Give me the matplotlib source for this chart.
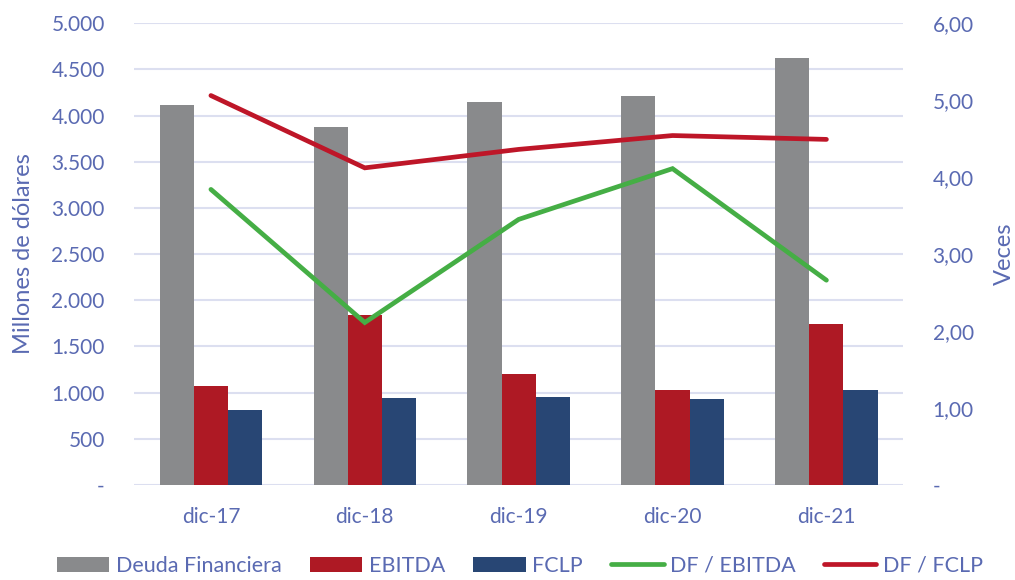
import matplotlib.pyplot as plt
import numpy as np
from matplotlib.ticker import FuncFormatter

plt.rcParams['font.family'] = ['Lato', 'DejaVu Sans']

# datos
periodos = ['dic-17', 'dic-18', 'dic-19', 'dic-20', 'dic-21']
deuda = [4113, 3874, 4145, 4210, 4621]
ebitda = [1071, 1840, 1201, 1028, 1742]
fclp = [812, 942, 952, 931, 1028]
df_ebitda = [3.84, 2.11, 3.45, 4.11, 2.66]
df_fclp = [5.06, 4.12, 4.36, 4.54, 4.49]

txt = '#5A6AB2'
grid = '#DCDFF0'

fig = plt.figure(figsize=(10.15, 5.8), dpi=100)
ax = fig.add_axes([0.132, 0.164, 0.758, 0.796])
ax2 = ax.twinx()

x = np.arange(len(periodos))
w = 0.222
ax.bar(x - w, deuda, w, color='#898A8C', label='Deuda Financiera', zorder=2)
ax.bar(x, ebitda, w, color='#AE1924', label='EBITDA', zorder=2)
ax.bar(x + w, fclp, w, color='#284674', label='FCLP', zorder=2)

ax2.plot(x, df_ebitda, color='#45AE45', lw=3.4, solid_capstyle='round',
         solid_joinstyle='miter', label='DF / EBITDA')
ax2.plot(x, df_fclp, color='#BE1628', lw=3.4, solid_capstyle='round',
         solid_joinstyle='miter', label='DF / FCLP')

ax.set_xlim(-0.5, 4.5)
ax.set_ylim(0, 5000)
ax2.set_ylim(0, 6)
ax.set_yticks(np.arange(0, 5001, 500))
ax2.set_yticks(np.arange(0, 7, 1))

def fmt_izq(v, p):
    if v == 0:
        return '-'
    return f'{int(v):,}'.replace(',', '.')

def fmt_der(v, p):
    if v == 0:
        return '-'
    return f'{v:.2f}'.replace('.', ',')

ax.yaxis.set_major_formatter(FuncFormatter(fmt_izq))
ax2.yaxis.set_major_formatter(FuncFormatter(fmt_der))

ax.set_xticks(x)
ax.set_xticklabels(periodos)
ax.grid(axis='y', color=grid, lw=1.5)
ax.set_axisbelow(True)

for a in (ax, ax2):
    for s in a.spines.values():
        s.set_visible(False)
    a.tick_params(length=0, colors=txt, labelsize=15)
ax.tick_params(axis='y', pad=21)
ax2.tick_params(axis='y', pad=21)
ax.tick_params(axis='x', pad=16)

ax.set_ylabel('Millones de dólares', color=txt, fontsize=17)
ax2.set_ylabel('Veces', color=txt, fontsize=17)
ax.yaxis.set_label_coords(-0.130, 0.5)
ax2.yaxis.set_label_coords(1.118, 0.5)

h1, l1 = ax.get_legend_handles_labels()
h2, l2 = ax2.get_legend_handles_labels()
leg = fig.legend(h1 + h2, l1 + l2, loc='lower center', bbox_to_anchor=(0.512, -0.026),
                 ncol=5, frameon=False, fontsize=15.5, handlelength=2.45,
                 handleheight=0.72, columnspacing=1.3, handletextpad=0.3)
for t in leg.get_texts():
    t.set_color(txt)

fig.savefig('out.png', dpi=100)
